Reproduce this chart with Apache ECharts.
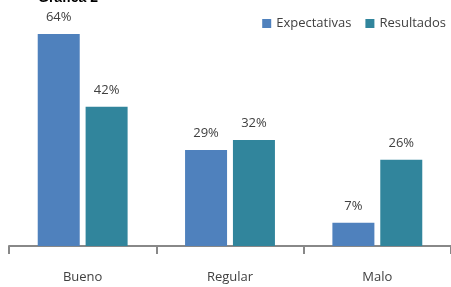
<!DOCTYPE html>
<html>
<head>
<meta charset="utf-8">
<script src="https://cdn.jsdelivr.net/npm/echarts@6/dist/echarts.min.js"></script>
<style>
  html, body { margin: 0; padding: 0; background: #fff; }
  #main { width: 451px; height: 287px; }
</style>
</head>
<body>
<div id="main"></div>
<script>
const categories = ['Bueno', 'Regular', 'Malo'];
const expectativas = [64, 29, 7];
const resultados = [42, 32, 26];

const chart = echarts.init(document.getElementById('main'));

const labelStyle = {
  show: true,
  position: 'top',
  formatter: '{c}%',
  color: '#404040',
  fontSize: 13,
  fontFamily: 'Open Sans',
  distance: 10
};

const option = {
  animation: false,
  title: {
    text: 'Gráfica 2',
    left: 33,
    top: -14,
    textStyle: { fontSize: 14, fontWeight: 'bold', color: '#000', fontFamily: 'Liberation Sans' }
  },
  legend: {
    right: 0,
    top: 12,
    itemWidth: 9,
    itemHeight: 9,
    itemGap: 14,
    icon: 'rect',
    textStyle: { color: '#404040', fontSize: 13, fontFamily: 'Open Sans' },
    data: ['Expectativas', 'Resultados']
  },
  grid: { left: 9, right: -2, top: 14, bottom: 41 },
  xAxis: {
    type: 'category',
    data: categories,
    axisLine: { lineStyle: { color: '#888', width: 2 } },
    axisTick: { show: true, length: 8, lineStyle: { color: '#888', width: 2 } },
    axisLabel: { color: '#404040', fontSize: 13, fontFamily: 'Open Sans', margin: 25 }
  },
  yAxis: {
    type: 'value',
    min: 0,
    max: 70,
    show: false,
    splitLine: { show: false }
  },
  series: [
    {
      name: 'Expectativas',
      type: 'bar',
      data: expectativas,
      barWidth: 42,
      barGap: '14%',
      itemStyle: { color: '#4f81bd' },
      label: labelStyle
    },
    {
      name: 'Resultados',
      type: 'bar',
      data: resultados,
      barWidth: 42,
      itemStyle: { color: '#31859c' },
      label: labelStyle
    }
  ]
};

chart.setOption(option);
</script>
</body>
</html>
